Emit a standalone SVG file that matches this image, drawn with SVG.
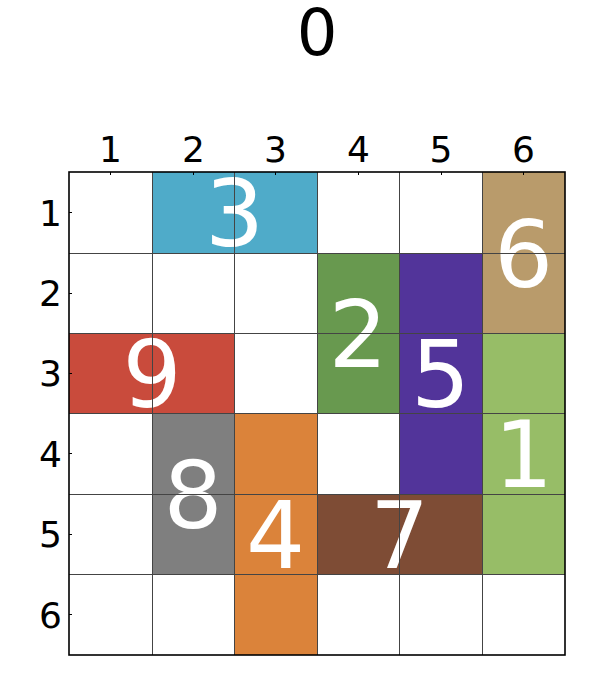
<svg xmlns="http://www.w3.org/2000/svg" width="600" height="690" viewBox="0 0 600 690">
<style>
.lab{font-family:"DejaVu Sans",sans-serif;font-size:36px;fill:#000}
.big{font-family:"DejaVu Sans",sans-serif;font-size:93px;fill:#fff;text-anchor:middle}
.grid{stroke:#444;stroke-width:1;fill:none}
.tick{stroke:#000;stroke-width:1}
</style>
<rect width="600" height="690" fill="#fff"/>
<text x="317" y="55" font-family="DejaVu Sans, sans-serif" font-size="64" text-anchor="middle">0</text>
<g id="tiles">
<g id="p3"><rect x="152" y="172" width="165" height="81" fill="#4fabc9"/><text class="big" x="234.5" y="246">3</text></g>
<g id="p6"><rect x="482" y="172" width="83" height="161" fill="#b99b6b"/><text class="big" x="523.5" y="287">6</text></g>
<g id="p2"><rect x="317" y="253" width="82" height="160" fill="#68994f"/><text class="big" x="358" y="367">2</text></g>
<g id="p5"><rect x="399" y="253" width="83" height="241" fill="#52349a"/><text class="big" x="440.5" y="407">5</text></g>
<g id="p9"><rect x="69" y="333" width="165" height="80" fill="#c94b3c"/><text class="big" x="152" y="407">9</text></g>
<g id="p1"><rect x="482" y="333" width="83" height="241" fill="#97bd67"/><text class="big" x="523.5" y="487">1</text></g>
<g id="p8"><rect x="152" y="413" width="82" height="161" fill="#7f7f7f"/><text class="big" x="193" y="528">8</text></g>
<g id="p4"><rect x="234" y="413" width="83" height="242" fill="#db833a"/><text class="big" x="275.5" y="568">4</text></g>
<g id="p7"><rect x="317" y="494" width="165" height="80" fill="#7e4c35"/><text class="big" x="399.5" y="568">7</text></g>
</g>
<g id="connectors">
<path class="grid" d="M152.5 172V655M234.5 172V655M317.5 172V655M399.5 172V655M482.5 172V655M69 253.5H565M69 333.5H565M69 413.5H565M69 494.5H565M69 574.5H565"/>
<path class="tick" d="M110.5 172v3M193.5 172v3M275.5 172v3M358.5 172v3M441.5 172v3M523.5 172v3M69 212.5h3M69 293.5h3M69 373.5h3M69 453.5h3M69 534.5h3M69 614.5h3"/>
<rect x="69" y="172" width="496" height="483" fill="none" stroke="#000" stroke-width="1.6"/>
</g>
<g id="labels">
<text class="lab" x="110.5" y="162" text-anchor="middle">1</text>
<text class="lab" x="193.5" y="162" text-anchor="middle">2</text>
<text class="lab" x="275.5" y="162" text-anchor="middle">3</text>
<text class="lab" x="358.5" y="162" text-anchor="middle">4</text>
<text class="lab" x="441" y="162" text-anchor="middle">5</text>
<text class="lab" x="523.5" y="162" text-anchor="middle">6</text>
<text class="lab" x="62" y="226" text-anchor="end">1</text>
<text class="lab" x="62" y="306" text-anchor="end">2</text>
<text class="lab" x="62" y="386" text-anchor="end">3</text>
<text class="lab" x="62" y="467" text-anchor="end">4</text>
<text class="lab" x="62" y="547" text-anchor="end">5</text>
<text class="lab" x="62" y="628" text-anchor="end">6</text>
</g>
</svg>
